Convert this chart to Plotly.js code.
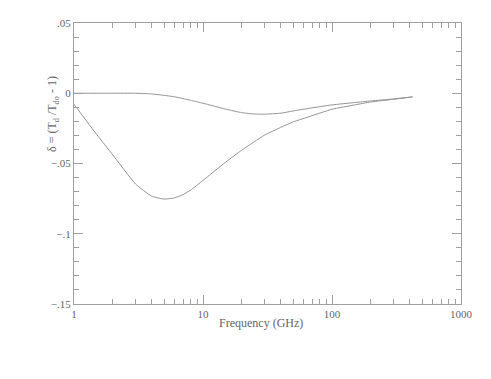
<!DOCTYPE html>
<html>
<head>
<meta charset="utf-8">
<script src="https://cdn.plot.ly/plotly-3.0.1.min.js"></script>
<style>
  html, body { margin: 0; padding: 0; background: #fff; }
  #chart { width: 491px; height: 379px; }
</style>
</head>
<body>
<div id="chart"></div>
<script>
// Frequency (GHz) and delta values
const freq = [1, 1.5, 2, 3, 4, 5, 6, 7, 8, 10, 15, 20, 25, 30, 40, 50, 70, 100, 150, 200, 300, 420];
const deltaUpper = [0, 0, 0, 0, -0.0005, -0.0015, -0.0025, -0.0038, -0.005, -0.0071, -0.0113, -0.0138,
  -0.0148, -0.0149, -0.0142, -0.0126, -0.0104, -0.0083, -0.0066, -0.0055, -0.004, -0.0026];
const deltaLower = [-0.0078, -0.0294, -0.0439, -0.0646, -0.0732, -0.0753, -0.0745, -0.0722, -0.069, -0.062,
  -0.049, -0.0405, -0.0345, -0.0298, -0.0243, -0.0204, -0.016, -0.0114, -0.0083, -0.0062, -0.0043, -0.0026];

const xMajor = [1, 10, 100, 1000];
const xMajorText = ["1", "10", "100", "1000"];
const yMajor = [0.05, 0, -0.05, -0.1, -0.15];
const yMajorText = [".05", "0", "\u2212.05", "\u2212.1", "\u2212.15"];

// minor ticks: 2..9 per decade, every .01 on y
const xMinor = [];
[1, 10, 100].forEach(d => { for (let k = 2; k <= 9; k++) xMinor.push(d * k); });
const yMinor = [];
for (let i = -15; i <= 5; i++) yMinor.push(i / 100);

const lineColor = "#959595";
const axisColor = "#a0a0a0";
const textColor = "#666";
const serif = "'Liberation Serif', 'Times New Roman', serif";

const traces = [
  { x: freq, y: deltaUpper, type: "scatter", mode: "lines", line: { color: lineColor, width: 1, shape: "spline", smoothing: 0.5 }, hoverinfo: "skip" },
  { x: freq, y: deltaLower, type: "scatter", mode: "lines", line: { color: lineColor, width: 1, shape: "spline", smoothing: 0.5 }, hoverinfo: "skip" },
];

const layout = {
  width: 491,
  height: 379,
  margin: { l: 74, r: 30, t: 23, b: 75 },
  paper_bgcolor: "#fff",
  plot_bgcolor: "#fff",
  showlegend: false,
  font: { family: serif, color: textColor, size: 11 },
  xaxis: {
    type: "log",
    range: [0, 3],
    showgrid: false, zeroline: false,
    showline: true, linecolor: axisColor, linewidth: 1, mirror: "ticks",
    ticks: "inside", ticklen: 9, tickcolor: axisColor,
    tickmode: "array", tickvals: xMajor, ticktext: xMajorText,
    minor: { ticks: "inside", ticklen: 5, tickcolor: axisColor, tickmode: "array", tickvals: xMinor },
    tickfont: { family: serif, size: 11, color: textColor },
  },
  yaxis: {
    range: [-0.15, 0.05],
    showgrid: false, zeroline: false,
    showline: true, linecolor: axisColor, linewidth: 1, mirror: "ticks",
    ticks: "inside", ticklen: 9, tickcolor: axisColor,
    tickmode: "array", tickvals: yMajor, ticktext: yMajorText,
    minor: { ticks: "inside", ticklen: 5, tickcolor: axisColor, tickmode: "array", tickvals: yMinor },
    tickfont: { family: serif, size: 11, color: textColor },
  },
  annotations: [
    {
      text: "Frequency (GHz)", xref: "paper", yref: "paper",
      x: (261 - 74) / 387, y: -(323 - 304) / 281, xanchor: "center", yanchor: "middle",
      showarrow: false, font: { family: serif, size: 12, color: textColor },
    },
    {
      text: "\u03b4 = (T<sub>d</sub> /T<sub>do</sub> - 1)", xref: "paper", yref: "paper",
      x: -(74 - 53) / 387, y: (304 - 114) / 281, xanchor: "center", yanchor: "middle",
      textangle: -90, showarrow: false, font: { family: serif, size: 12, color: textColor },
    },
  ],
};

Plotly.newPlot("chart", traces, layout, { displayModeBar: false, staticPlot: true });
</script>
</body>
</html>
